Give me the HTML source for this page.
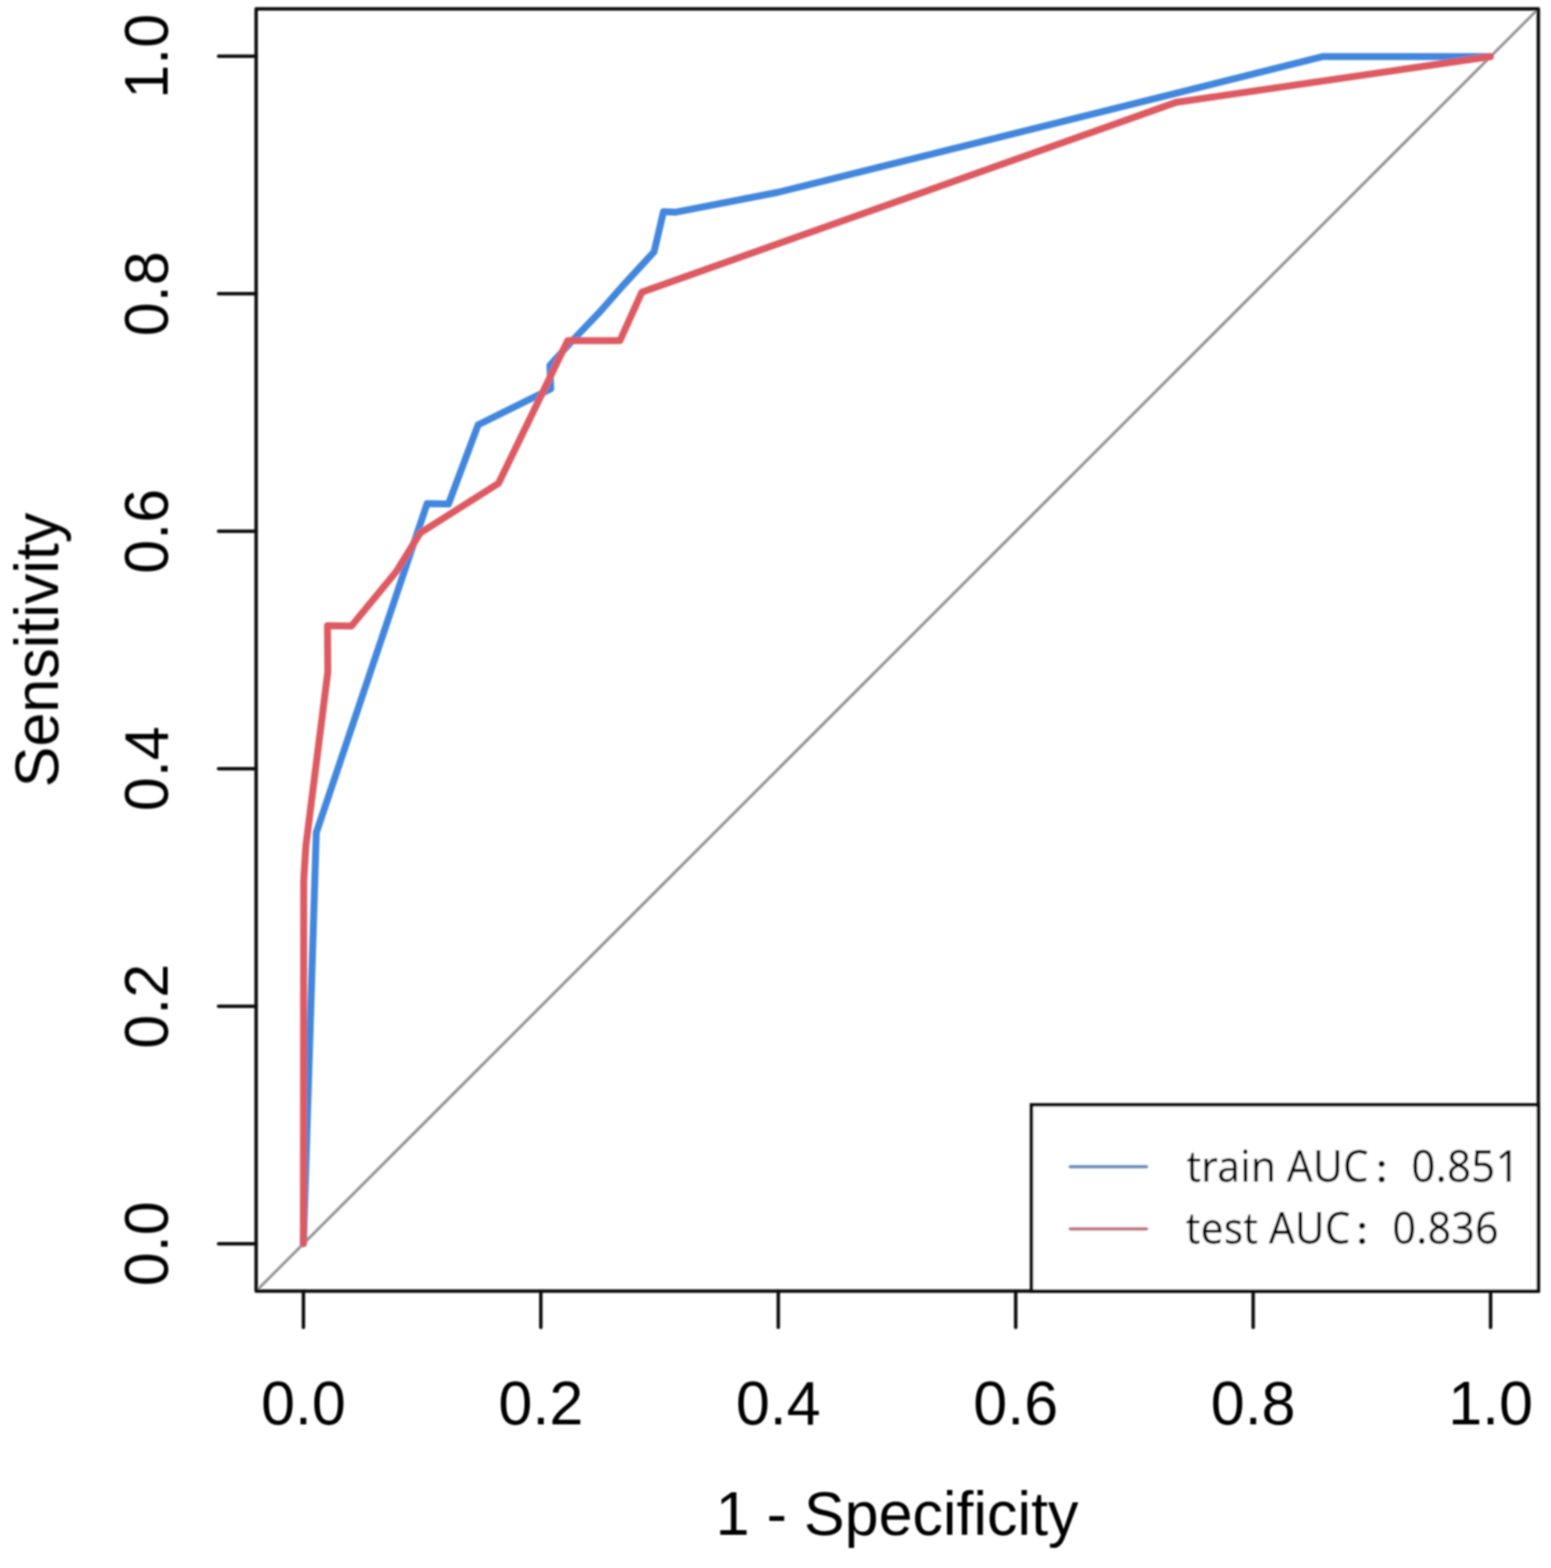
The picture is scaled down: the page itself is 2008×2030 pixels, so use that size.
<!DOCTYPE html>
<html>
<head>
<meta charset="utf-8">
<style>
html,body{margin:0;padding:0;background:#fff;}
body{width:2008px;height:2030px;overflow:hidden;}
svg{display:block;}
.ax{font-family:"Liberation Sans",Arial,sans-serif;font-size:79px;fill:#000;}
.lg{font-family:"Noto Sans","Liberation Sans","Noto Sans CJK SC",sans-serif;font-size:57px;fill:#000;}
.cj{font-family:"Noto Sans CJK SC","Noto Sans CJK JP",sans-serif;font-size:41px;font-weight:700;fill:#000;}
</style>
</head>
<body>
<svg width="2008" height="2030" viewBox="0 0 2008 2030">
<defs><filter id="soft" x="0" y="0" width="2008" height="2030" filterUnits="userSpaceOnUse"><feGaussianBlur stdDeviation="1"/></filter></defs>
<rect x="0" y="0" width="2008" height="2030" fill="#fff"/>
<g filter="url(#soft)">

<!-- diagonal reference line -->
<line x1="331.5" y1="1671.5" x2="1991.5" y2="11.5" stroke="#969696" stroke-width="3.8"/>

<!-- train curve (blue) -->
<polyline fill="none" stroke="#4287de" stroke-width="9" stroke-linejoin="round" stroke-linecap="round"
 points="392.8,1610 409.5,1078 553,651.9 580.6,652.6 619,550 713,503.5 712,473 740,442 776,404.4 808.9,367.1 846.8,326 859,274 875,274.7 1007,249 1712.9,73.2 1929.5,73.2"/>

<!-- test curve (red) -->
<polyline fill="none" stroke="#de5a62" stroke-width="9" stroke-linejoin="round" stroke-linecap="round"
 points="392.8,1610 393.2,1140 396,1095 424.4,870 424,810 455,810.5 513,740 544,690 645.4,625.8 735,441 802.6,441 830.9,378.3 1522.6,132.5 1929.5,73.2"/>

<!-- plot box -->
<rect x="331.6" y="11.6" width="1660" height="1659.8" fill="none" stroke="#111" stroke-width="4.5" stroke-linejoin="round"/>

<!-- y ticks -->
<g stroke="#111" stroke-width="4.5" stroke-linecap="round">
<line x1="283" y1="72.8" x2="331.6" y2="72.8"/>
<line x1="283" y1="380.3" x2="331.6" y2="380.3"/>
<line x1="283" y1="687.8" x2="331.6" y2="687.8"/>
<line x1="283" y1="995.2" x2="331.6" y2="995.2"/>
<line x1="283" y1="1302.7" x2="331.6" y2="1302.7"/>
<line x1="283" y1="1610.2" x2="331.6" y2="1610.2"/>
<!-- x ticks -->
<line x1="392.8" y1="1671.4" x2="392.8" y2="1718.5"/>
<line x1="700.2" y1="1671.4" x2="700.2" y2="1718.5"/>
<line x1="1007.6" y1="1671.4" x2="1007.6" y2="1718.5"/>
<line x1="1315" y1="1671.4" x2="1315" y2="1718.5"/>
<line x1="1622.4" y1="1671.4" x2="1622.4" y2="1718.5"/>
<line x1="1929.8" y1="1671.4" x2="1929.8" y2="1718.5"/>
</g>

<!-- y tick labels (rotated) -->
<g class="ax" text-anchor="middle">
<text transform="translate(217,72.8) rotate(-90)">1.0</text>
<text transform="translate(217,380.3) rotate(-90)">0.8</text>
<text transform="translate(217,687.8) rotate(-90)">0.6</text>
<text transform="translate(217,995.2) rotate(-90)">0.4</text>
<text transform="translate(217,1302.7) rotate(-90)">0.2</text>
<text transform="translate(217,1610.2) rotate(-90)">0.0</text>
</g>

<!-- x tick labels -->
<g class="ax" text-anchor="middle">
<text x="392.8" y="1843.5">0.0</text>
<text x="700.2" y="1843.5">0.2</text>
<text x="1007.6" y="1843.5">0.4</text>
<text x="1315" y="1843.5">0.6</text>
<text x="1622.4" y="1843.5">0.8</text>
<text x="1929.8" y="1843.5">1.0</text>
</g>

<!-- axis titles -->
<text class="ax" text-anchor="middle" x="1161.5" y="1986.5">1 - Specificity</text>
<text class="ax" text-anchor="middle" transform="translate(75,841.5) rotate(-90)">Sensitivity</text>

<!-- legend -->
<rect x="1335.4" y="1430.4" width="656.2" height="241.1" fill="#fff" stroke="#111" stroke-width="4.5"/>
<line x1="1385.5" y1="1510.5" x2="1484.5" y2="1510.5" stroke="#6790bd" stroke-width="4.3" stroke-linecap="round"/>
<line x1="1385.5" y1="1591" x2="1484.5" y2="1591" stroke="#c07880" stroke-width="4.3" stroke-linecap="round"/>
<text class="lg" transform="translate(1535.9,1529.7) scale(0.93,1)">train AUC</text>
<text class="cj" x="1778.4" y="1529.8">：</text>
<text class="lg" transform="translate(1827.1,1529.7) scale(0.963,1)">0.851</text>
<text class="lg" transform="translate(1535.1,1609.7) scale(0.93,1)">test AUC</text>
<text class="cj" x="1753.2" y="1609.6">：</text>
<text class="lg" transform="translate(1802.6,1609.7) scale(0.946,1)">0.836</text>
</g>
</svg>
</body>
</html>
